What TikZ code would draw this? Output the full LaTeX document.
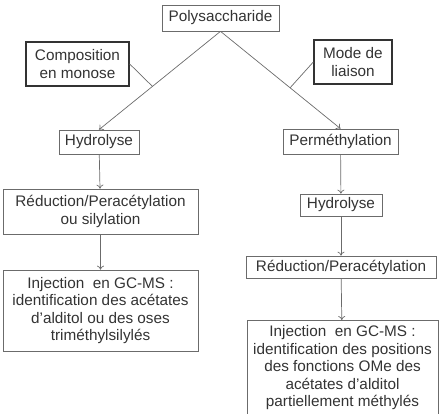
\documentclass[tikz,border=0pt]{standalone}
\usepackage{fontspec}
\setmainfont{Liberation Sans}
\usepackage{tikz}
\usetikzlibrary{arrows.meta}
\definecolor{boxgray}{rgb}{0.42,0.42,0.42}
\definecolor{txtgray}{rgb}{0.2,0.2,0.2}

\begin{document}
\begin{tikzpicture}[x=1pt,y=-1pt,>={To[length=4pt,width=7pt]},
    etape/.style={draw=boxgray,line width=0.7pt,inner sep=0pt,align=center,text=txtgray,
      font=\fontsize{15.3}{17.5}\selectfont},
    theme/.style={etape,draw=txtgray,line width=1.4pt},
    fl/.style={->,draw=boxgray,line width=0.7pt}]
    \useasboundingbox (0,0) rectangle (441,413);
    \node[etape,minimum width=117pt,minimum height=26pt] (poly) at (220.5,18) {Polysaccharide};
    \node[theme,minimum width=103pt,minimum height=44pt] (comp) at (77.5,64) {Composition\\en monose};
    \node[theme,minimum width=78pt,minimum height=44pt] (mode) at (353,62) {Mode de\\liaison};
    % branche gauche
    \node[etape,minimum width=80pt,minimum height=24pt] (hydA) at (99,142) {Hydrolyse};
    \node[etape,minimum width=195pt,minimum height=45pt] (redA) at (100.5,211.5) {R\'eduction/Perac\'etylation\\ou silylation};
    \node[etape,minimum width=195pt,minimum height=81pt] (injA) at (100.5,310.5)
      {Injection~ en GC-MS :\\identification des ac\'etates\\d’alditol ou des oses\\trim\'ethylsilyl\'es};
    % branche droite
    \node[etape,minimum width=115pt,minimum height=25pt] (perm) at (340.5,141.5) {Perm\'ethylation};
    \node[etape,minimum width=82pt,minimum height=22pt] (hydB) at (341,205) {Hydrolyse};
    \node[etape,minimum width=190pt,minimum height=22pt] (redB) at (341,267) {R\'eduction/Perac\'etylation};
    \node[etape,minimum width=191pt,minimum height=95pt,anchor=north] (injB) at (342.5,320)
      {Injection~ en GC-MS :\\identification des positions\\des fonctions OMe des\\ac\'etates d’alditol\\partiellement m\'ethyl\'es};
    \draw[fl] (poly.south) -- coordinate[pos=0.56] (jA) (hydA.north);
    \draw[fl] (poly.south) -- coordinate[pos=0.58] (jB) (perm.north);
    \draw[boxgray,line width=0.7pt] (comp.east) -- (jA);
    \draw[boxgray,line width=0.7pt] (mode.west) -- (jB);
    \draw[fl] (hydA) -- (redA);
    \draw[fl] (redA) -- (injA);
    \draw[fl] (perm) -- (hydB);
    \draw[fl] (hydB) -- (redB);
    \draw[fl] (redB) -- (injB);
\end{tikzpicture}
\end{document}
